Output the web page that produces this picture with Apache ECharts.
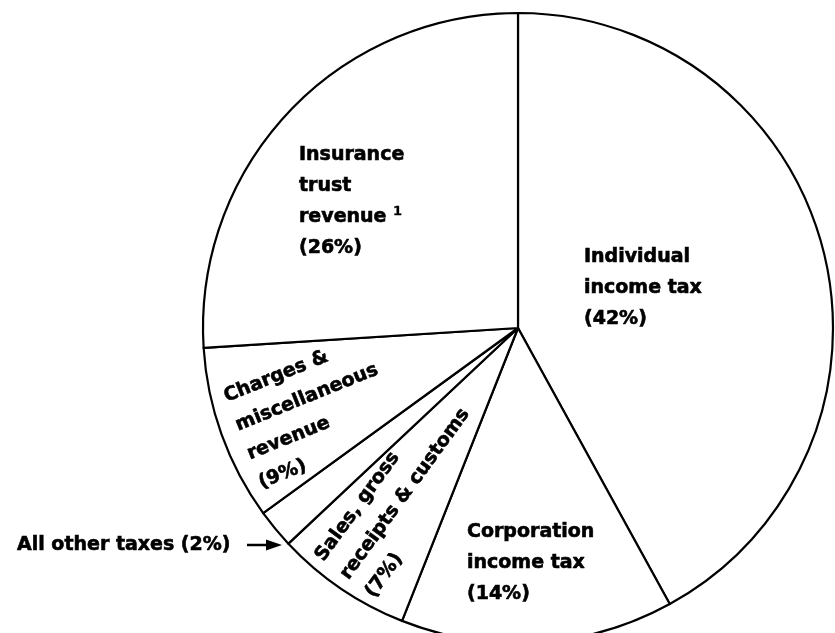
<!DOCTYPE html>
<html>
<head>
<meta charset="utf-8">
<script src="https://cdn.jsdelivr.net/npm/echarts@6/dist/echarts.min.js"></script>
<style>
  html, body { margin: 0; padding: 0; background: #fff; }
  #chart { width: 835px; height: 633px; }
</style>
</head>
<body>
<div id="chart"></div>
<script>
// Sources of revenue, shares in percent (clockwise from 12 o'clock)
const categories = [
  'Individual income tax',
  'Corporation income tax',
  'Sales, gross receipts & customs',
  'All other taxes',
  'Charges & miscellaneous revenue',
  'Insurance trust revenue'
];
const shares = [42, 14, 7, 2, 9, 26];

// How each category name is broken over lines in its label
const labelLines = [
  ['Individual', 'income tax'],
  ['Corporation', 'income tax'],
  ['Sales, gross', 'receipts & customs'],
  ['All other taxes'],
  ['Charges &', 'miscellaneous', 'revenue'],
  ['Insurance', 'trust', 'revenue']
];
const footnotes = [null, null, null, null, null, '1'];

// Where each label block sits (top-left anchor) and its tilt in degrees
const labelPlacement = [
  { x: 584, y: 242, rotate: 0, verticalAlign: 'top' },
  { x: 467, y: 517, rotate: 0, verticalAlign: 'top' },
  { x: 307, y: 550, rotate: 54, verticalAlign: 'top' },
  { x: 17, y: 545, rotate: 0, verticalAlign: 'middle' },
  { x: 219, y: 383, rotate: 22, verticalAlign: 'top' },
  { x: 299, y: 140, rotate: 0, verticalAlign: 'top' }
];

const chart = echarts.init(document.getElementById('chart'), null, { renderer: 'canvas' });

const data = categories.map((name, i) => ({ name: name, value: shares[i] }));

function formatLabel(p) {
  const i = p.dataIndex;
  const lines = labelLines[i].slice();
  const pct = '(' + p.value + '%)';
  if (footnotes[i]) {
    lines[lines.length - 1] += ' {sup|' + footnotes[i] + '}';
  }
  if (lines.length === 1) {
    return lines[0] + ' ' + pct;
  }
  return lines.join('\n') + '\n' + pct;
}

chart.setOption({
  backgroundColor: '#ffffff',
  animation: false,
  series: [{
    type: 'pie',
    center: [518, 328],
    radius: 315,
    startAngle: 90,
    clockwise: true,
    avoidLabelOverlap: false,
    data: data,
    itemStyle: {
      color: '#ffffff',
      borderColor: '#000000',
      borderWidth: 2.2
    },
    emphasis: { disabled: true },
    label: {
      show: true,
      position: 'inside',
      formatter: formatLabel,
      fontFamily: 'DejaVu Sans',
      fontWeight: 'bold',
      fontSize: 19,
      lineHeight: 31,
      color: '#000000',
      textBorderColor: '#000000',
      textBorderWidth: 0.6,
      align: 'left',
      rich: {
        sup: {
          fontFamily: 'DejaVu Sans',
          fontSize: 13,
          verticalAlign: 'top',
          padding: [3, 0, 0, 0],
          color: '#000000',
          textBorderColor: '#000000',
          textBorderWidth: 0.3
        }
      }
    },
    labelLine: { show: false },
    labelLayout: function (params) {
      const p = labelPlacement[params.dataIndex];
      return {
        x: p.x,
        y: p.y,
        rotate: p.rotate,
        align: 'left',
        verticalAlign: p.verticalAlign
      };
    }
  }],
  graphic: [{
    type: 'group',
    silent: true,
    children: [
      {
        type: 'line',
        shape: { x1: 247, y1: 545, x2: 272, y2: 545 },
        style: { stroke: '#000', lineWidth: 2.5 }
      },
      {
        type: 'polygon',
        shape: { points: [[266, 539.5], [282, 545], [266, 550.5]] },
        style: { fill: '#000' }
      }
    ]
  }]
});
</script>
</body>
</html>
